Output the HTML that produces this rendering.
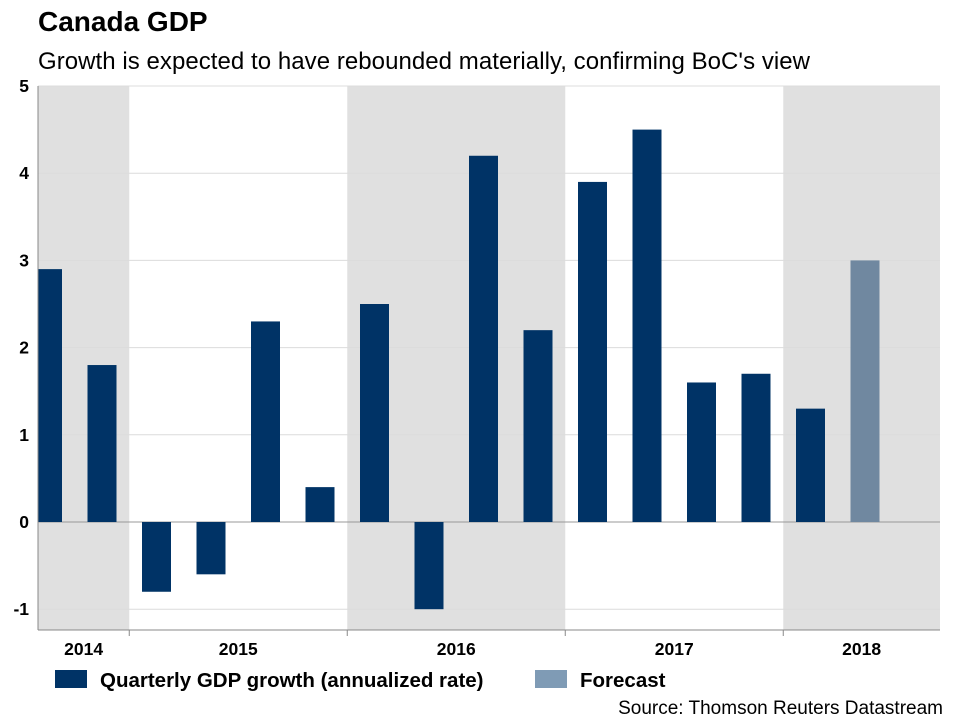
<!DOCTYPE html>
<html><head><meta charset="utf-8"><style>
body{margin:0;background:#fff;font-family:"Liberation Sans",Arial,sans-serif}
</style></head><body>
<svg width="960" height="720" xmlns="http://www.w3.org/2000/svg" font-family="Liberation Sans, Arial, sans-serif">
<text x="38" y="31" font-size="28" font-weight="bold" fill="#000">Canada GDP</text>
<text x="38" y="69" font-size="24" fill="#000" textLength="772">Growth is expected to have rebounded materially, confirming BoC's view</text>
<g id="plot"></g>
<rect x="55" y="670" width="32" height="18" fill="#003366"/>
<text x="100" y="687" font-size="20.5" font-weight="bold">Quarterly GDP growth (annualized rate)</text>
<rect x="535" y="670" width="32" height="18" fill="#7f9bb5"/>
<text x="580" y="687" font-size="20.5" font-weight="bold">Forecast</text>
<text x="943" y="714" font-size="19" text-anchor="end">Source: Thomson Reuters Datastream</text>
</svg>
<script>
const values = [2.9, 1.8, -0.8, -0.6, 2.3, 0.4, 2.5, -1.0, 4.2, 2.2, 3.9, 4.5, 1.6, 1.7, 1.3, 3.0];
const isForecast = [0,0,0,0,0,0,0,0,0,0,0,0,0,0,0,1];
const years = ["2014","2015","2016","2017","2018"];
const yearStartSlot = [-2, 2, 6, 10, 14];
const yTicks = [-1,0,1,2,3,4,5];
const NS="http://www.w3.org/2000/svg";
const g=document.getElementById('plot');
const L=38,R=940,T=86,B=630;
const slotW=54.5, x0=20.25;
function xs(i){return x0+slotW*i;}
function ys(v){return 522-(v*87.2);}
function mk(t,a){const e=document.createElementNS(NS,t);for(const k in a)e.setAttribute(k,a[k]);g.appendChild(e);return e;}
years.forEach((y,i)=>{
  const a=Math.max(L,xs(yearStartSlot[i])), b=Math.min(R,xs(yearStartSlot[i]+4));
  if(i%2===0){const r=mk('rect',{x:a,y:T,width:b-a,height:B-T,fill:'#e0e0e0'});
  
  }
  const t=mk('text',{x:(a+b)/2,y:655,'font-size':17.5,'font-weight':'bold','text-anchor':'middle'});t.textContent=y;
  
  
  if(i>0){const tk=mk('line',{x1:a,x2:a,y1:B,y2:B+6,stroke:'#888'});
  
  }
});
yTicks.forEach(v=>{
  const l=mk('line',{x1:L,x2:R,y1:ys(v),y2:ys(v),stroke:v===0?'#999':'#dcdcdc','stroke-width':1});
  
  
  const t=mk('text',{x:29,y:ys(v)+6,'font-size':17.5,'font-weight':'bold','text-anchor':'end'});t.textContent=v;
  
  
});
values.forEach((v,i)=>{
  const c=xs(i)+slotW/2, w=29;
  let a=Math.max(L,c-w/2), b=c+w/2;
  const r=mk('rect',{x:a,y:Math.min(ys(v),ys(0)),width:b-a,height:Math.abs(ys(v)-ys(0)),fill:isForecast[i]?'#7088a0':'#003366'});
  
  
});
const ax=mk('line',{x1:L,x2:R,y1:B,y2:B,stroke:'#888'});


const ay=mk('line',{x1:L,x2:L,y1:T,y2:B,stroke:'#888'});


</script>
</body></html>
